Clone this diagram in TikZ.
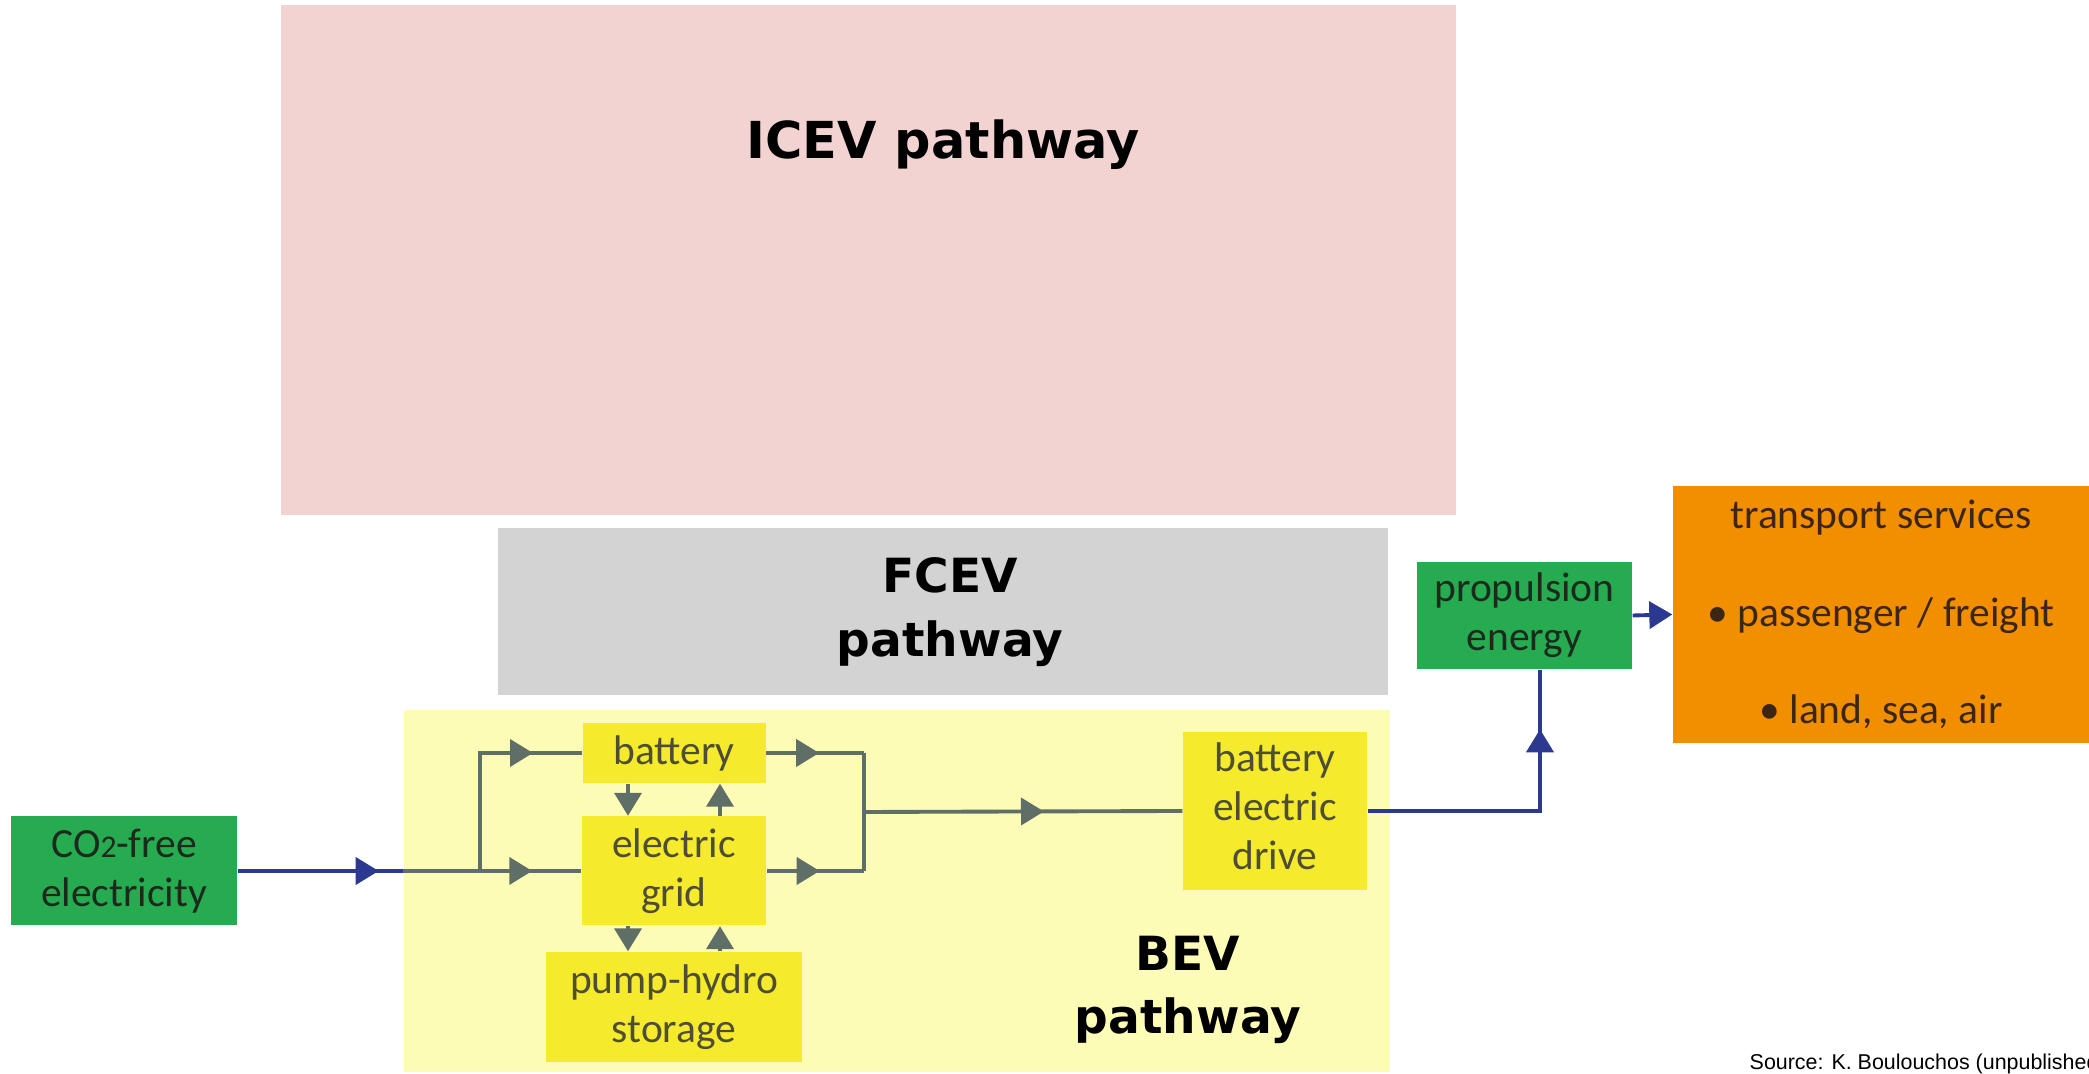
\documentclass[tikz,border=0pt]{standalone}
\usepackage{fontspec}
\setmainfont{Carlito}
\newfontfamily\headfont{DejaVu Sans}
\newfontfamily\notefont{Liberation Sans}
\usetikzlibrary{arrows.meta, positioning, decorations.markings}
\definecolor{icevbg}    {HTML}{F2D3D2}
\definecolor{fcevbg}    {HTML}{D3D3D3}
\definecolor{bevbg}     {HTML}{FDFCB6}
\definecolor{boxyellow} {HTML}{F6EA2C}
\definecolor{boxgreen}  {HTML}{27AB50}
\definecolor{boxorange} {HTML}{F28F00}
\definecolor{flowblue}  {HTML}{2B3990}
\definecolor{flowgray}  {HTML}{5F6E66}
\definecolor{yellowtext}{HTML}{4E4E34}
\definecolor{greentext} {HTML}{1C2A1E}
\definecolor{orangetext}{HTML}{3A2612}
\tikzset{
  unit/.style={inner sep=0pt,align=center,font=\fontsize{11.8}{14}\selectfont},
  ybox/.style={unit,fill=boxyellow,text=yellowtext},
  gbox/.style={unit,fill=boxgreen,text=greentext},
  headlabel/.style={align=center,font=\headfont\bfseries\fontsize{13.4}{18}\selectfont},
  blueflow/.style={flowblue,line width=1.1pt},
  grayflow/.style={flowgray,line width=1.1pt},
  tipat/.style={postaction={decorate},decoration={markings,
    mark=at position #1 with {\arrow{Triangle[length=2.3mm,width=2.7mm]}}}},
}
\begin{document}
\begin{tikzpicture}
\useasboundingbox(0,0)rectangle(20.89,10.74);
\clip(0,0)rectangle(20.89,10.74);
% pathway backgrounds
\node[fill=icevbg,minimum width=11.75cm,minimum height=5.10cm](icev)at(8.685,8.14){};
\node[fill=fcevbg,minimum width=8.90cm,minimum height=1.67cm](fcev)at(9.43,4.625){};
\node[fill=bevbg,minimum width=9.86cm,minimum height=3.62cm](bev)at(8.97,1.83){};
\node[headlabel,font=\headfont\bfseries\fontsize{14.5}{18}\selectfont](icevlabel)at(9.43,9.29){ICEV pathway};
\node[headlabel](fcevlabel)at(9.50,4.62){FCEV\\pathway};
\node[headlabel](bevlabel)at(11.88,0.84){BEV\\pathway};
% boxes
\node[gbox,minimum width=2.26cm,minimum height=1.09cm](co2)at(1.24,2.03){CO{\fontsize{9}{9}\selectfont 2}-free\\electricity};
\node[ybox,minimum width=1.83cm,minimum height=0.60cm](battery)at(6.74,3.21){battery};
\node[ybox,minimum width=1.84cm,minimum height=1.09cm](grid)at(6.74,2.03){electric\\grid};
\node[ybox,minimum width=2.56cm,minimum height=1.10cm](pump)at(6.74,0.67){pump-hydro\\storage};
\node[ybox,minimum width=1.84cm,minimum height=1.58cm,text depth=0.1cm](bed)at(12.75,2.63){battery\\electric\\drive};
\node[gbox,minimum width=2.15cm,minimum height=1.07cm](prop)at(15.245,4.585){propulsion\\energy};
\node[unit,fill=boxorange,text=orangetext,font=\fontsize{11.8}{27.8}\selectfont,
  minimum width=4.16cm,minimum height=2.57cm](services)at(18.81,4.595)
  {transport services\\\textbullet\ passenger / freight\\\textbullet\ land, sea, air};
% flows
\coordinate(bevin)at(bev.west|-co2.east);
\coordinate(split)at(4.80,2.03);
\coordinate(join)at(8.64,2.62);
\draw[blueflow,tipat=1.41cm](co2.east)--(bevin);
\draw[grayflow,tipat=1.29cm](bevin)--(grid.west);
\draw[grayflow,tipat=1.71cm](split)|-(battery.west);
\draw[grayflow,tipat=0.53cm](battery.east)--(battery.east-|join);
\draw[grayflow,tipat=0.53cm](grid.east)--(grid.east-|join);
\draw[grayflow](battery.east-|join)--(grid.east-|join);
\draw[grayflow,tipat=1.80cm](join)--(bed.west);
\draw[grayflow,-{Triangle[length=2.3mm,width=2.7mm]}]([xshift=-4.6mm]battery.south)--([xshift=-4.6mm]grid.north);
\draw[grayflow,-{Triangle[length=2.3mm,width=2.7mm]}]([xshift=4.6mm]grid.north)--([xshift=4.6mm]battery.south);
\draw[grayflow,-{Triangle[length=2.3mm,width=2.7mm]}]([xshift=-4.6mm]grid.south)--([xshift=-4.6mm]pump.north);
\draw[grayflow,-{Triangle[length=2.3mm,width=2.7mm]}]([xshift=4.6mm]pump.north)--([xshift=4.6mm]grid.south);
\draw[blueflow,tipat=2.54cm](bed.east)-|([xshift=1.55mm]prop.south);
\draw[blueflow,-{Triangle[length=2.3mm,width=2.7mm]}](prop.east)--(services.west);
\node[font=\notefont\fontsize{6.1}{7}\selectfont,inner sep=0pt,anchor=base west](source)at(17.49,0.04){Source: K. Boulouchos (unpublished)};
\end{tikzpicture}
\end{document}
